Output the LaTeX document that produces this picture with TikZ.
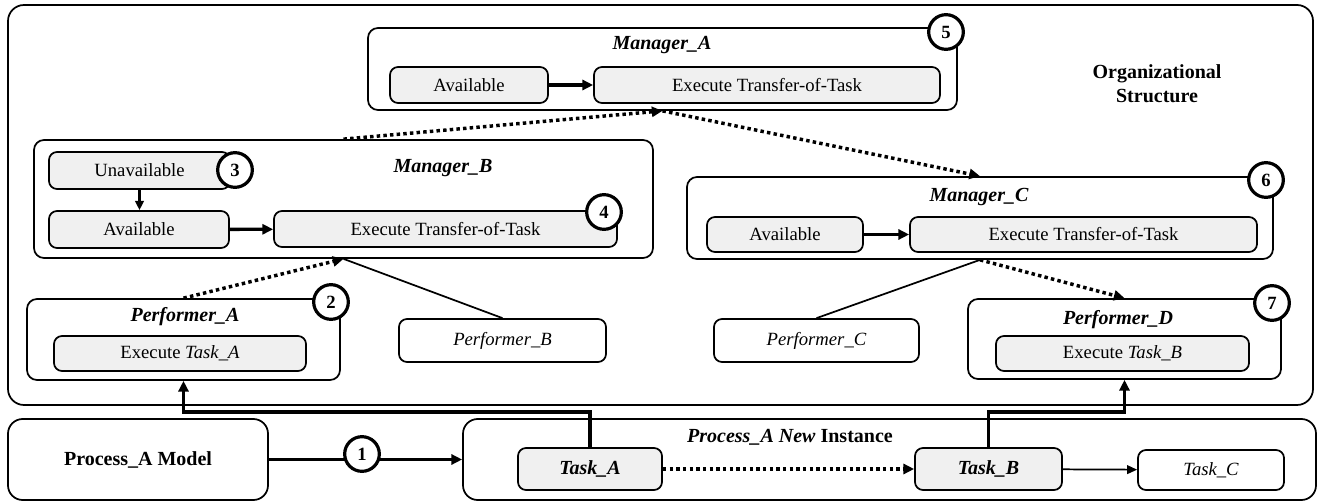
\documentclass[tikz,border=0pt]{standalone}
\usepackage{fontspec}
\setmainfont{Liberation Serif}
\usetikzlibrary{arrows.meta}
\definecolor{boxgray}{RGB}{240,240,240}

\tikzset{every picture/.style={line width=0.75pt}}
\tikzset{
  grp/.style={draw, line width=1.3pt, rounded corners=7.5pt, inner sep=0pt},
  act/.style={draw, line width=1.3pt, fill=boxgray, rounded corners=6pt, inner sep=0pt, font=\fontsize{14}{16}\selectfont},
  role/.style={act, fill=white, font=\fontsize{14}{16}\selectfont\itshape},
  title/.style={inner sep=0.75pt, font=\fontsize{15}{17}\selectfont\bfseries\itshape},
  num/.style={circle, draw, line width=2.4pt, fill=white, inner sep=0pt, minimum size=26pt, font=\fontsize{14}{16}\selectfont\bfseries},
  move/.style={line width=2.5pt, -{Triangle[length=8pt,width=7.5pt]}},
  push/.style={line width=1.8pt, -{Triangle[length=7pt,width=6.5pt]}},
  link/.style={line width=1.3pt},
  pass/.style={line width=1.3pt, -{Triangle[length=7.5pt,width=6.5pt]}},
  transfer/.style={line width=2.6pt, dash pattern=on 2.6pt off 2.4pt, -{Triangle[length=8pt,width=7.5pt]}}
}

\begin{document}
\begin{tikzpicture}[x=0.75pt,y=0.75pt,yscale=-1,xscale=1]
\useasboundingbox (0,0) rectangle (1320,502);

% Organizational structure frame
\node[grp, rounded corners=12pt, minimum width=978.75pt, minimum height=300pt] (org) at (660.5,205) {};
\node[font=\fontsize{15}{18}\selectfont\bfseries, align=center] (orgtxt) at (1157,84) {Organizational\\Structure};

% Manager_A
\node[grp, minimum width=441.75pt, minimum height=61.5pt] (mgrA) at (662.5,69) {};
\node[title] (mgrAt) at (662,45) {Manager\_A};
\node[act, minimum width=118.5pt, minimum height=27pt] (mgrAav) at (469,85) {Available};
\node[act, minimum width=259.5pt, minimum height=27pt] (mgrAex) at (767,85) {Execute Transfer-of-Task};
\draw[move] (mgrAav) -- (mgrAex);

% Manager_B
\node[grp, minimum width=464.25pt, minimum height=88.5pt] (mgrB) at (343.5,199) {};
\node[title] (mgrBt) at (443,168) {Manager\_B};
\node[act, minimum width=135.75pt, minimum height=27.75pt] (mgrBun) at (139.5,170.5) {Unavailable};
\node[act, minimum width=135pt, minimum height=27.75pt] (mgrBav) at (139,229.5) {Available};
\node[act, minimum width=257.25pt, minimum height=27pt] (mgrBex) at (445.5,229) {Execute Transfer-of-Task};
\draw[push] (mgrBun) -- (mgrBun |- mgrBav.north);
\draw[move] (mgrBav) -- (mgrBex);

% Manager_C
\node[grp, minimum width=439.5pt, minimum height=61.5pt] (mgrC) at (980,218) {};
\node[title] (mgrCt) at (979,197) {Manager\_C};
\node[act, minimum width=117pt, minimum height=26.25pt] (mgrCav) at (785,234.5) {Available};
\node[act, minimum width=260.25pt, minimum height=26.25pt] (mgrCex) at (1083.5,234.5) {Execute Transfer-of-Task};
\draw[move] (mgrCav) -- (mgrCex);

% Performers
\node[grp, minimum width=234.75pt, minimum height=60.75pt] (perfA) at (183.5,339.5) {};
\node[title] (perfAt) at (185,317) {Performer\_A};
\node[act, minimum width=189pt, minimum height=26.25pt] (perfAex) at (180,353.5) {Execute \textit{Task\_A}};
\node[role, minimum width=155.25pt, minimum height=32.25pt] (perfB) at (502.5,340.5) {Performer\_B};
\node[role, minimum width=153.75pt, minimum height=32.25pt] (perfC) at (816.5,340.5) {Performer\_C};
\node[grp, minimum width=234.75pt, minimum height=60pt] (perfD) at (1124.5,339) {};
\node[title] (perfDt) at (1118,320) {Performer\_D};
\node[act, minimum width=189.75pt, minimum height=26.25pt] (perfDex) at (1122.5,353.5) {Execute \textit{Task\_B}};

% Links in the structure
\draw[link] (perfB.north) -- (mgrB.south);
\draw[link] (perfC.north) -- (mgrC.south);
\draw[transfer] (perfA.north) -- (mgrB.south);
\draw[transfer] (mgrB.north) -- (mgrA.south);
\draw[transfer] (mgrA.south) -- (mgrC.north);
\draw[transfer] (mgrC.south) -- (perfD.north);

% Process model and instance
\node[grp, rounded corners=11pt, minimum width=195pt, minimum height=60.75pt, font=\fontsize{15}{17}\selectfont\bfseries] (model) at (138,459.5) {Process\_A Model};
\node[grp, rounded corners=11pt, minimum width=639.75pt, minimum height=60.75pt] (inst) at (889.5,459.5) {};
\node[inner sep=0.75pt, font=\fontsize{15}{17}\selectfont\bfseries] (instt) at (790,437) {\textit{Process\_A New} Instance};
\node[act, minimum width=108pt, minimum height=31.5pt, font=\fontsize{15}{17}\selectfont\bfseries\itshape] (taskA) at (590,469) {Task\_A};
\node[act, minimum width=110.25pt, minimum height=31.5pt, font=\fontsize{15}{17}\selectfont\bfseries\itshape] (taskB) at (988.5,469) {Task\_B};
\node[role, minimum width=109.5pt, minimum height=30pt] (taskC) at (1211,470) {Task\_C};
\draw[move] (model) -- (inst);
\draw[transfer] (taskA) -- (taskB);
\draw[pass] (taskB) -- (taskC);

% Assignment to performers
\coordinate (bus) at (0,412);
\draw[move] (taskA.north) |- (perfA.south |- bus) -- (perfA.south);
\draw[move] (taskB.north) |- (perfD.south |- bus) -- (perfD.south);

% Step numbers
\node[num] (n1) at (362,454) {1};
\node[num] (n2) at (331,302) {2};
\node[num] (n3) at (235,170) {3};
\node[num] (n4) at (604,212) {4};
\node[num] (n5) at (946,32) {5};
\node[num] (n6) at (1266,180) {6};
\node[num] (n7) at (1272,303) {7};

\end{tikzpicture}
\end{document}
